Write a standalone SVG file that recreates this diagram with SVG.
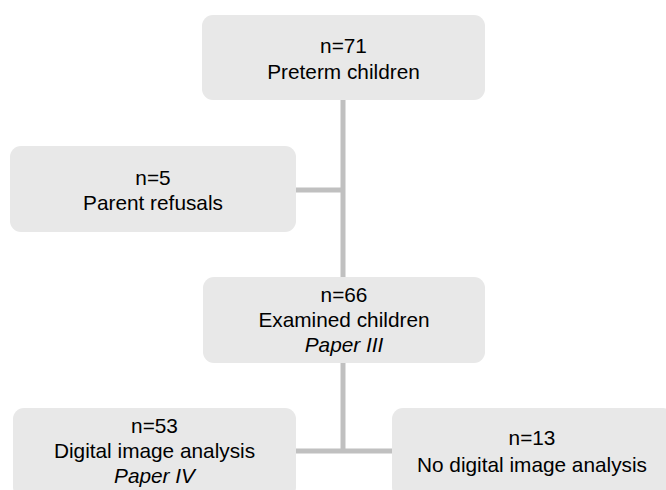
<svg xmlns="http://www.w3.org/2000/svg" width="666" height="490" viewBox="0 0 666 490">
  <style>
    .box { fill: #e8e8e8; stroke: none; }
    .lbl { font-family: "Liberation Sans", Arial, sans-serif; font-size: 20.8px; fill: #000; text-anchor: middle; }
    .it { font-style: italic; }
    .conn { stroke: #c0c0c0; stroke-width: 5; fill: none; }
  </style>
  <rect width="666" height="490" fill="#ffffff"/>
  <g id="connectors">
    <line class="conn" x1="343" y1="100" x2="343" y2="277"/>
    <line class="conn" x1="296" y1="190" x2="343" y2="190"/>
    <line class="conn" x1="343" y1="363" x2="343" y2="451"/>
    <line class="conn" x1="296" y1="451" x2="392" y2="451"/>
  </g>
  <g id="preterm">
    <rect class="box" x="202" y="15" width="283" height="85" rx="11"/>
    <text class="lbl" x="343.5" y="53">n=71</text>
    <text class="lbl" x="343.5" y="79">Preterm children</text>
  </g>
  <g id="refusals">
    <rect class="box" x="10" y="146" width="286" height="86" rx="11"/>
    <text class="lbl" x="153" y="185">n=5</text>
    <text class="lbl" x="153" y="210">Parent refusals</text>
  </g>
  <g id="examined">
    <rect class="box" x="203" y="277" width="282" height="86" rx="11"/>
    <text class="lbl" x="344" y="302">n=66</text>
    <text class="lbl" x="344" y="327">Examined children</text>
    <text class="lbl it" x="344" y="352">Paper III</text>
  </g>
  <g id="digital">
    <rect class="box" x="13" y="408" width="283" height="90" rx="11"/>
    <text class="lbl" x="154.5" y="433">n=53</text>
    <text class="lbl" x="154.5" y="458">Digital image analysis</text>
    <text class="lbl it" x="154.5" y="483">Paper IV</text>
  </g>
  <g id="nodigital">
    <rect class="box" x="392" y="408" width="282" height="90" rx="11"/>
    <text class="lbl" x="532" y="445">n=13</text>
    <text class="lbl" x="532" y="472">No digital image analysis</text>
  </g>
</svg>
